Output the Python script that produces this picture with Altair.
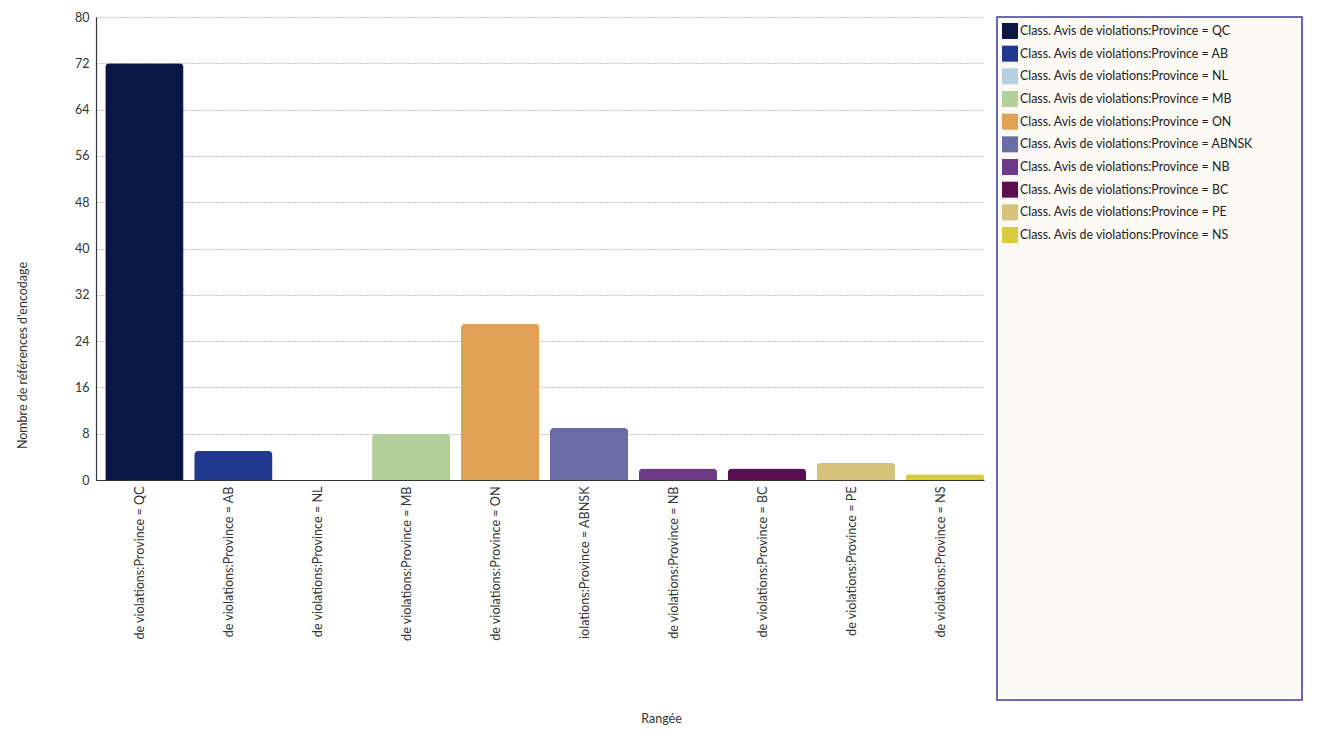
import altair as alt
import pandas as pd

provinces = ["QC", "AB", "NL", "MB", "ON", "ABNSK", "NB", "BC", "PE", "NS"]
values = [72, 5, 0, 8, 27, 9, 2, 2, 3, 1]
colors = ["#0c1646", "#20388e", "#b4d0e0", "#b3cf9a", "#e0a055",
          "#6a6ca6", "#6c3a88", "#5c0f50", "#d6c27a", "#d8cc3e"]
prefix = "Class. Avis de violations:Province = "
y_ticks = [0, 8, 16, 24, 32, 40, 48, 56, 64, 72, 80]

categories = [prefix + p for p in provinces]
df = pd.DataFrame({"cat": categories, "value": values})

color_scale = alt.Scale(domain=categories, range=colors)

label_expr = ("length(datum.label) > 40 ? substring(datum.label, length(datum.label) - 26)"
              " : substring(datum.label, 12)")

bars = alt.Chart(df).mark_bar(cornerRadiusTopLeft=4, cornerRadiusTopRight=4).encode(
    x=alt.X("cat:N", sort=categories,
            scale=alt.Scale(paddingInner=0.12, paddingOuter=0.052, align=1),
            axis=alt.Axis(title="Rangée", labelAngle=-90, labelExpr=label_expr,
                          ticks=False, labelPadding=6, labelOffset=-4,
                          labelFontSize=12.6, grid=False, titleX=565, titleY=232)),
    y=alt.Y("value:Q", scale=alt.Scale(domain=[0, 80], nice=False),
            axis=alt.Axis(values=y_ticks, title="Nombre de références d'encodage",
                          titleX=-67, titleY=338, grid=True, gridDash=[1, 2],
                          gridColor="#8a8a8a", ticks=False, labelPadding=7,
                          labelFontSize=12.5)),
    color=alt.Color("cat:N", scale=color_scale, legend=None),
).properties(width=888, height=463)

leg_y = alt.Y("cat:N", sort=categories,
              scale=alt.Scale(type="point", range=[14, 218], padding=0), axis=None)

leg_sq = alt.Chart(df).mark_point(shape="square", filled=True, size=256, opacity=1).encode(
    x=alt.value(13),
    y=leg_y,
    color=alt.Color("cat:N", scale=color_scale, legend=None),
)
leg_tx = alt.Chart(df).mark_text(align="left", baseline="middle", fontSize=12.4,
                                 color="#222", font="Lato").encode(
    x=alt.value(23),
    y=leg_y,
    text="cat:N",
)
legend_panel = alt.layer(leg_sq, leg_tx).properties(
    width=305, height=683,
    view=alt.ViewBackground(fill="#fdf9f5", stroke="#3a3aa6", strokeWidth=1.5),
)

chart = alt.hconcat(bars, legend_panel, spacing=12).properties(
    padding={"left": 16, "top": 11, "right": 5, "bottom": 5},
    background="white",
).configure(font="Lato").configure_view(strokeWidth=0).configure_axis(
    domainColor="#333", domainWidth=1.2, labelColor="#333", titleColor="#333",
    labelFont="Lato", titleFont="Lato", titleFontWeight="normal", titleFontSize=12.5,
)

chart.save("out.html", embed_options={"renderer": "svg", "actions": False})
